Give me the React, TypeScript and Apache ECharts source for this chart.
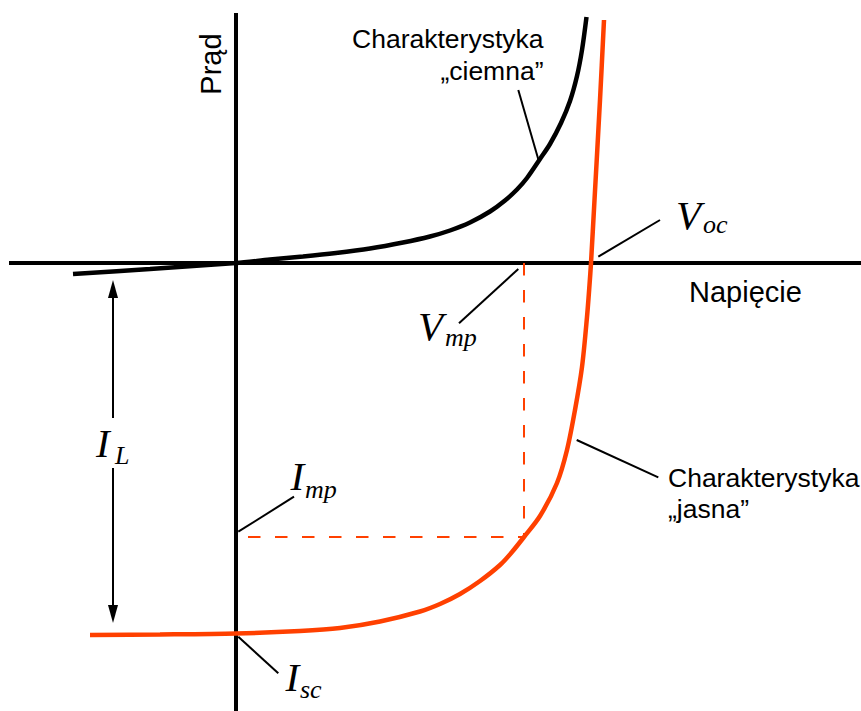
import { useEffect, useRef } from "react";
import * as echarts from "echarts";

// Solar cell I–V characteristics, voltage on x and current on y (arbitrary units).
// Dark characteristic (no illumination)
const darkV = [-1.63, -0.86, 0, 0.34, 0.67, 1.0, 1.34, 1.67, 1.94, 2.14, 2.34, 2.54, 2.69, 2.81, 2.91, 3.04, 3.14, 3.25, 3.34, 3.41, 3.46, 3.505];
const darkI = [-0.11, -0.06, 0, 0.035, 0.065, 0.1, 0.145, 0.205, 0.265, 0.325, 0.405, 0.515, 0.625, 0.735, 0.85, 1.04, 1.19, 1.4, 1.62, 1.87, 2.13, 2.46];

// Illuminated characteristic
const lightV = [-1.46, -0.76, 0, 0.64, 1.04, 1.44, 1.84, 2.04, 2.24, 2.44, 2.64, 2.76, 2.88, 3.04, 3.21, 3.31, 3.39, 3.46, 3.51, 3.535, 3.55, 3.585, 3.64, 3.68];
const lightI = [-3.72, -3.715, -3.705, -3.68, -3.65, -3.585, -3.485, -3.41, -3.31, -3.18, -3.02, -2.89, -2.74, -2.53, -2.2, -1.87, -1.47, -1.04, -0.54, -0.22, 0, 0.63, 1.63, 2.43];

// Characteristic points
const VOC = 3.55;
const VMP = 2.88;
const IMP = -2.74;
const ISC = -3.705;

// Visible window of the plane
const X_RANGE = [-2.36, 6.25];
const Y_RANGE = [-4.48, 2.63];

// Axis extents
const H_AXIS = [-2.27, 6.25];
const V_AXIS = [2.5, -4.48];

// I_L span: arrow x and the two arrow segments (label gap in the middle)
const IL_X = -1.23;
const IL_UPPER = [-1.55, -0.26];
const IL_LOWER = [-2.05, -3.51];

// Leader lines from annotations to the curves
const leaders: [number, number][][] = [
  [[2.823, 1.73], [3.025, 1.03]],
  [[VOC + 0.073, 0.063], [4.24, 0.43]],
  [[VMP - 0.057, -0.06], [2.23, -0.603]],
  [[0.023, IMP + 0.053], [0.58, -2.337]],
  [[0.023, ISC - 0.032], [0.423, -4.103]],
  [[3.407, -1.77], [4.223, -2.143]],
];

const ORANGE = "#ff4000";
const SANS = '"Liberation Sans", Arial, sans-serif';
const SERIF = '"Liberation Serif", "Times New Roman", serif';

const zip = (xs: number[], ys: number[]) => xs.map((x, i) => [x, ys[i]]);

function txt(
  text: string,
  x: number,
  y: number,
  font: string,
  align: "left" | "right" | "center" = "left",
  rotation = 0
) {
  return {
    type: "text",
    x,
    y,
    rotation,
    silent: true,
    z: 10,
    style: {
      text,
      font,
      fill: "#000",
      align,
      textAlign: align,
      verticalAlign: "middle",
      textVerticalAlign: "middle",
    },
  };
}

export default function App() {
  const ref = useRef<HTMLDivElement>(null);

  useEffect(() => {
    if (!ref.current) return;
    const chart = echarts.init(ref.current, undefined, { renderer: "svg" });

    const lineSeries = (data: number[][], style: any, z = 2) => ({
      type: "line",
      data,
      showSymbol: false,
      silent: true,
      z,
      lineStyle: style,
    });

    const big = `italic 41px ${SERIF}`;
    const sub = `italic 26px ${SERIF}`;
    const lbl = `26.5px ${SANS}`;

    chart.setOption({
      animation: false,
      backgroundColor: "#fff",
      grid: { left: 0, right: 0, top: 0, bottom: 0, containLabel: false },
      xAxis: { type: "value", min: X_RANGE[0], max: X_RANGE[1], show: false },
      yAxis: { type: "value", min: Y_RANGE[0], max: Y_RANGE[1], show: false },
      series: [
        // axes
        lineSeries([[H_AXIS[0], 0], [H_AXIS[1], 0]], { color: "#000", width: 4 }, 1),
        {
          ...lineSeries([[0, V_AXIS[0]], [0, V_AXIS[1]]], { color: "#000", width: 4 }, 1),
          markLine: {
            silent: true,
            symbol: ["none", "triangle"],
            symbolSize: [10, 18],
            label: { show: false },
            lineStyle: { color: "#000", width: 2, type: "solid" },
            data: [
              [{ coord: [IL_X, IL_UPPER[0]] }, { coord: [IL_X, IL_UPPER[1]] }],
              [{ coord: [IL_X, IL_LOWER[0]] }, { coord: [IL_X, IL_LOWER[1]] }],
            ],
          },
        },
        // maximum power point guides
        lineSeries([[VMP, 0], [VMP, IMP]], { color: ORANGE, width: 2, type: [12.5, 14.5] }, 2),
        lineSeries(
          [[0, IMP], [VMP, IMP]],
          { color: ORANGE, width: 2, type: [12.5, 14.5], dashOffset: 15 },
          2
        ),
        // characteristics
        {
          ...lineSeries(zip(darkV, darkI), { color: "#000", width: 4.5 }, 3),
          smooth: 0.3,
        },
        {
          ...lineSeries(zip(lightV, lightI), { color: ORANGE, width: 4.5 }, 4),
          smooth: 0.3,
        },
        // leader lines
        ...leaders.map((seg) => lineSeries(seg, { color: "#000", width: 2 }, 5)),
      ],
      graphic: [
        txt("Prąd", 210.7, 64, `29px ${SANS}`, "center", Math.PI / 2),
        txt("Napięcie", 689, 291.7, `29px ${SANS}`),
        txt("Charakterystyka", 543.5, 39.2, lbl, "right"),
        txt("\u201Eciemna\u201D", 543.5, 70.9, lbl, "right"),
        txt("Charakterystyka", 668, 478.2, lbl),
        txt("\u201Ejasna\u201D", 668, 509.2, lbl),
        txt("V", 676, 214.5, big),
        txt("oc", 703, 224.5, sub),
        txt("V", 418, 325.5, big),
        txt("mp", 445, 337.5, sub),
        txt("I", 96, 443.2, big),
        txt("L", 115, 455, sub),
        txt("I", 290.5, 475.5, big),
        txt("mp", 305, 489, sub),
        txt("I", 285.5, 676.9, big),
        txt("sc", 300, 689, sub),
      ],
    });

    return () => chart.dispose();
  }, []);

  return (
    <div
      ref={ref}
      style={{ position: "absolute", left: 0, top: 0, width: 861, height: 711, background: "#fff" }}
    />
  );
}
